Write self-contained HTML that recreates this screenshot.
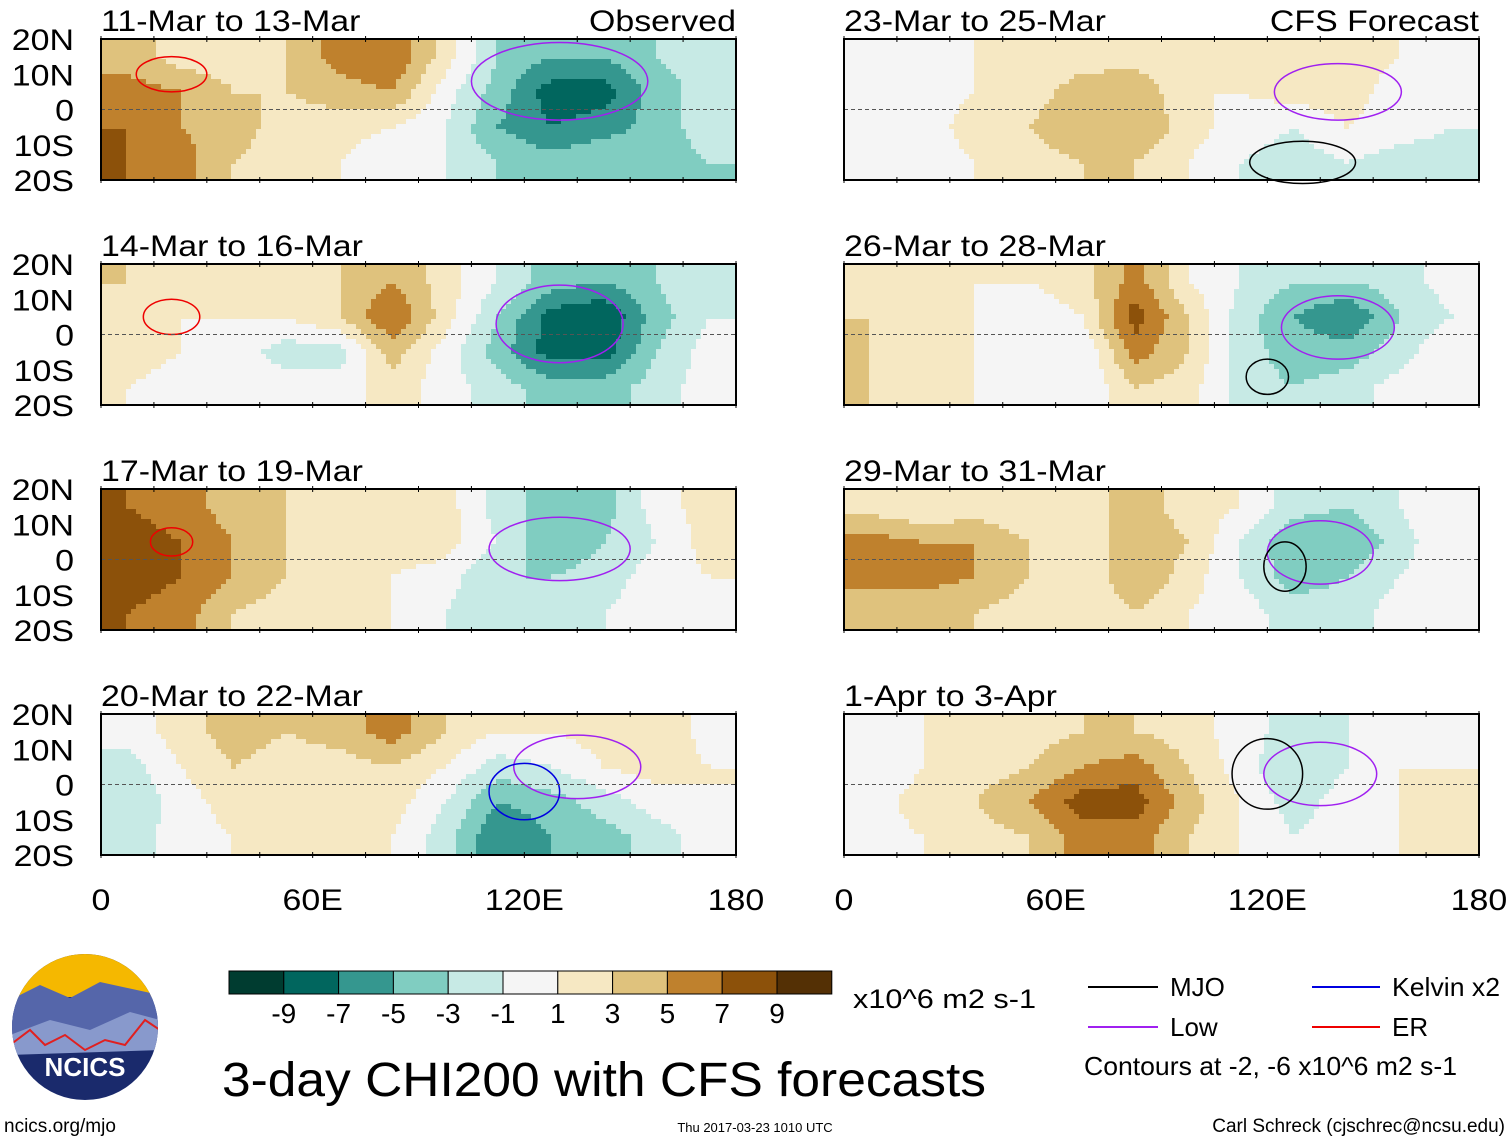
<!DOCTYPE html>
<html><head><meta charset="utf-8"><style>
body{margin:0;background:#fff;}
svg text{font-family:"Liberation Sans",sans-serif;}
</style></head><body>
<svg id="chart" width="1510" height="1142" xmlns="http://www.w3.org/2000/svg">
<g id="panels"></g>
<g id="bottom"></g>
</svg>
<script>
// ---- data: CHI200 anomaly (x10^6 m2 s-1), rows 20N-10N,10N-0,0-10S,10S-20S; cols 15deg each 0..180E
const panelTitles=["11-Mar to 13-Mar","14-Mar to 16-Mar","17-Mar to 19-Mar","20-Mar to 22-Mar","23-Mar to 25-Mar","26-Mar to 28-Mar","29-Mar to 31-Mar","1-Apr to 3-Apr"];
const p1=[[4,2,2,3,6,7,2,-3,-5,-5,-3,-2],[6,5,3,3,4,5,0,-4,-8,-8,-4,-2],[7,5,4,2,2,1,-1,-5,-7,-6,-4,-2],[7,6,3,2,1,-1,-1,-3,-4,-3,-4,-3]];
const p2=[[3,1,1,2,3,5,2,-1,-4,-5,-3,-1],[2,1,1,1,3,7,2,-3,-8,-9,-4,-1],[2,1,0,-2,-2,4,0,-4,-8,-8,-3,0],[1,0,1,0,0,2,0,-2,-4,-4,-2,0]];
const p3=[[7,6,4,3,2,3,2,-2,-4,-4,0,2],[8,7,5,3,2,2,2,-1,-5,-3,-1,2],[8,7,5,3,2,1,0,-3,-3,-2,0,1],[7,6,3,2,1,1,-1,-3,-2,-1,0,1]];
const p4=[[0,2,4,3,4,6,3,1,1,2,3,0],[-2,1,3,2,2,3,1,-2,-1,1,2,1],[-3,0,2,2,2,2,-1,-5,-4,-2,0,1],[-2,0,1,1,1,1,-2,-7,-5,-4,-2,0]];
const p5=[[0,0,1,2,2,2,1,1,2,2,1,-1],[0,0,1,2,4,5,1,1,2,2,0,-1],[0,0,2,3,5,5,2,0,-1,1,0,-1],[-1,0,1,2,3,3,1,-1,-2,-1,-2,-2]];
const p6=[[2,1,1,1,2,6,1,-1,-3,-3,-2,0],[3,2,1,0,1,8,3,-2,-5,-7,-3,-1],[3,2,1,1,-1,6,3,-2,-4,-4,-2,1],[3,2,1,0,-1,3,2,-2,-3,-2,0,1]];
const p7=[[2,1,2,1,2,4,2,1,-2,-3,-1,1],[6,5,5,3,1,5,3,-1,-5,-5,-2,1],[6,6,5,3,1,5,2,-1,-4,-3,-1,1],[3,3,3,2,1,3,1,0,-2,-2,0,1]];
const p8=[[0,1,2,2,3,3,2,0,-2,-1,0,0],[-1,1,2,3,5,6,3,0,-3,-1,1,1],[0,2,3,5,8,8,4,1,-2,0,1,2],[0,1,2,3,6,6,3,1,-1,0,1,1]];
const panelData=[p1,p2,p3,p4,p5,p6,p7,p8];
const levels=[-9,-7,-5,-3,-1,1,3,5,7,9];
const colors=["#003c30","#01665e","#35978f","#80cdc1","#c7eae5","#f5f5f5","#f6e8c3","#dfc27d","#bf812d","#8c510a","#543005"];
const yTicks=["20N","10N","0","10S","20S"];
const xTicks=["0","60E","120E","180"];

const NS="http://www.w3.org/2000/svg";
function mk(tag,attrs,parent){const e=document.createElementNS(NS,tag);for(const k in attrs)e.setAttribute(k,attrs[k]);parent.appendChild(e);return e;}
function colorFor(v){let i=0;while(i<levels.length&&v>=levels[i])i++;return colors[i];}
const W=635,H=141;
const lonX=(lon,x0)=>x0+lon/180*W;
const latY=(lat,y0)=>y0+(20-lat)/40*H;
function sample(d,lon,lat){
  let fx=(lon-7.5)/15, fy=(15-lat)/10;
  fx=Math.max(0,Math.min(10.999,fx)); fy=Math.max(0,Math.min(2.999,fy));
  const i=Math.floor(fx),j=Math.floor(fy),tx=fx-i,ty=fy-j;
  const a=d[j][i]*(1-tx)+d[j][i+1]*tx, b=d[j+1][i]*(1-tx)+d[j+1][i+1]*tx;
  return a*(1-ty)+b*ty;
}
const panelsG=document.getElementById('panels');
const ovals=[[[130,8,25,11,"#a020f0"],[20,10,10,5,"#e00"]],[[130,3,18,11,"#a020f0"],[20,5,8,5,"#e00"]],[[130,3,20,9,"#a020f0"],[20,5,6,4,"#e00"]],[[135,5,18,9,"#a020f0"],[120,-2,10,8,"#0000e0"]],[[140,5,18,8,"#a020f0"],[130,-15,15,6,"#000"]],[[140,2,16,9,"#a020f0"],[120,-12,6,5,"#000"]],[[135,2,15,9,"#a020f0"],[125,-2,6,7,"#000"]],[[135,3,16,9,"#a020f0"],[120,3,10,10,"#000"]]];
const scaleTexts=[];
panelData.forEach((d,p)=>{
  const col=p<4?0:1,row=p%4;
  const x0=col?844:101,y0=39+row*225;
  const g=mk('g',{},panelsG);
  
  
  const step=5;
  for(let x=0;x<W;x+=step){for(let y=0;y<H;y+=step){
    const lon=(x+step/2)/W*180,lat=20-(y+step/2)/H*40;
    const r=mk('rect',{x:x0+x,y:y0+y,width:Math.min(step,W-x)+0.3,height:Math.min(step,H-y)+0.3,fill:colorFor(sample(d,lon,lat))},g);
    
    
  }}
  ovals[p].forEach(o=>{const e=mk('ellipse',{cx:lonX(o[0],x0),cy:latY(o[1],y0),rx:o[2]/180*W,ry:o[3]/40*H,fill:'none',stroke:o[4],'stroke-width':1.5},g);
    });
  mk('line',{x1:x0,x2:x0+W,y1:latY(0,y0),y2:latY(0,y0),stroke:'#555','stroke-dasharray':'4,3','stroke-width':1},g);
  mk('rect',{x:x0,y:y0,width:W,height:H,fill:'none',stroke:'#000','stroke-width':2},g);
  for(let k=0;k<=12;k++){const xx=x0+k*W/12;mk('line',{x1:xx,x2:xx,y1:y0-3,y2:y0+3,stroke:'#000'},g);mk('line',{x1:xx,x2:xx,y1:y0+H-3,y2:y0+H+3,stroke:'#000'},g);}
  if(col===0){yTicks.forEach((t,k)=>{const tx=mk('text',{x:74,y:y0+k*H/4+11,'font-size':30,'text-anchor':'end'},g);tx.textContent=t;
    scaleTexts.push(tx);});}
  const tt=mk('text',{x:x0,y:y0-8,'font-size':30},g);tt.textContent=panelTitles[p];
  scaleTexts.push(tt);
  if(row===0){const lb=mk('text',{x:x0+W,y:y0-8,'font-size':30,'text-anchor':'end'},g);lb.textContent=col?"CFS Forecast":"Observed";
    scaleTexts.push(lb);}
  if(row===3){xTicks.forEach((t,k)=>{const tx=mk('text',{x:x0+k*W/3,y:910,'font-size':30,'text-anchor':'middle'},g);tx.textContent=t;
    scaleTexts.push(tx);});}
});
const B=document.getElementById('bottom');
colors.forEach((c,i)=>{const r=mk('rect',{x:229+i*54.8,y:971,width:54.8,height:23,fill:c,stroke:'#000','stroke-width':1},B);
  });
levels.forEach((v,i)=>{const t=mk('text',{x:229+(i+1)*54.8,y:1023,'font-size':28,'text-anchor':'middle'},B);t.textContent=v;
  });
scaleTexts.forEach(t=>{const L=t.getComputedTextLength();t.setAttribute('textLength',(L*1.13).toFixed(1));t.setAttribute('lengthAdjust','spacingAndGlyphs');});
</script>
<svg style="position:absolute;left:0;top:0" width="1510" height="1142" xmlns="http://www.w3.org/2000/svg">
<text x="853" y="1008" font-size="27" textLength="183" lengthAdjust="spacingAndGlyphs">x10^6 m2 s-1</text>
<text x="222" y="1096" font-size="48" textLength="764" lengthAdjust="spacingAndGlyphs">3-day CHI200 with CFS forecasts</text>
<g>
<line x1="1088" x2="1158" y1="987" y2="987" stroke="#000" stroke-width="2"/><text x="1170" y="996" font-size="26">MJO</text>
<line x1="1312" x2="1380" y1="987" y2="987" stroke="#0000e0" stroke-width="2"/><text x="1392" y="996" font-size="26" textLength="108" lengthAdjust="spacingAndGlyphs">Kelvin x2</text>
<line x1="1088" x2="1158" y1="1027" y2="1027" stroke="#a020f0" stroke-width="2"/><text x="1170" y="1036" font-size="26">Low</text>
<line x1="1312" x2="1380" y1="1027" y2="1027" stroke="#e00" stroke-width="2"/><text x="1392" y="1036" font-size="26">ER</text>
<text x="1084" y="1075" font-size="26" textLength="373" lengthAdjust="spacingAndGlyphs">Contours at -2, -6 x10^6 m2 s-1</text>
</g>
<g>
<clipPath id="lc"><circle cx="85" cy="1027" r="73"/></clipPath>
<g clip-path="url(#lc)">
<rect x="10" y="952" width="150" height="150" fill="#1a2a6c"/>
<rect x="10" y="952" width="150" height="45" fill="#f5b800"/>
<path d="M10 1000 L40 985 L70 998 L100 982 L160 995 L160 1030 L10 1040Z" fill="#5566aa"/>
<path d="M10 1035 L50 1020 L90 1030 L130 1012 L160 1020 L160 1050 L10 1055Z" fill="#8899cc"/>
<path d="M10 1045 L30 1030 L45 1045 L65 1035 L85 1050 L105 1040 L125 1045 L145 1020 L160 1030" fill="none" stroke="#e02020" stroke-width="2"/>
</g>
<text x="85" y="1076" font-size="26" font-weight="bold" fill="#fff" text-anchor="middle">NCICS</text>
</g>
<text x="4" y="1132" font-size="19">ncics.org/mjo</text>
<text x="755" y="1132" font-size="13" text-anchor="middle">Thu 2017-03-23 1010 UTC</text>
<text x="1505" y="1132" font-size="19" text-anchor="end">Carl Schreck (cjschrec@ncsu.edu)</text>
</svg>
</body></html>
